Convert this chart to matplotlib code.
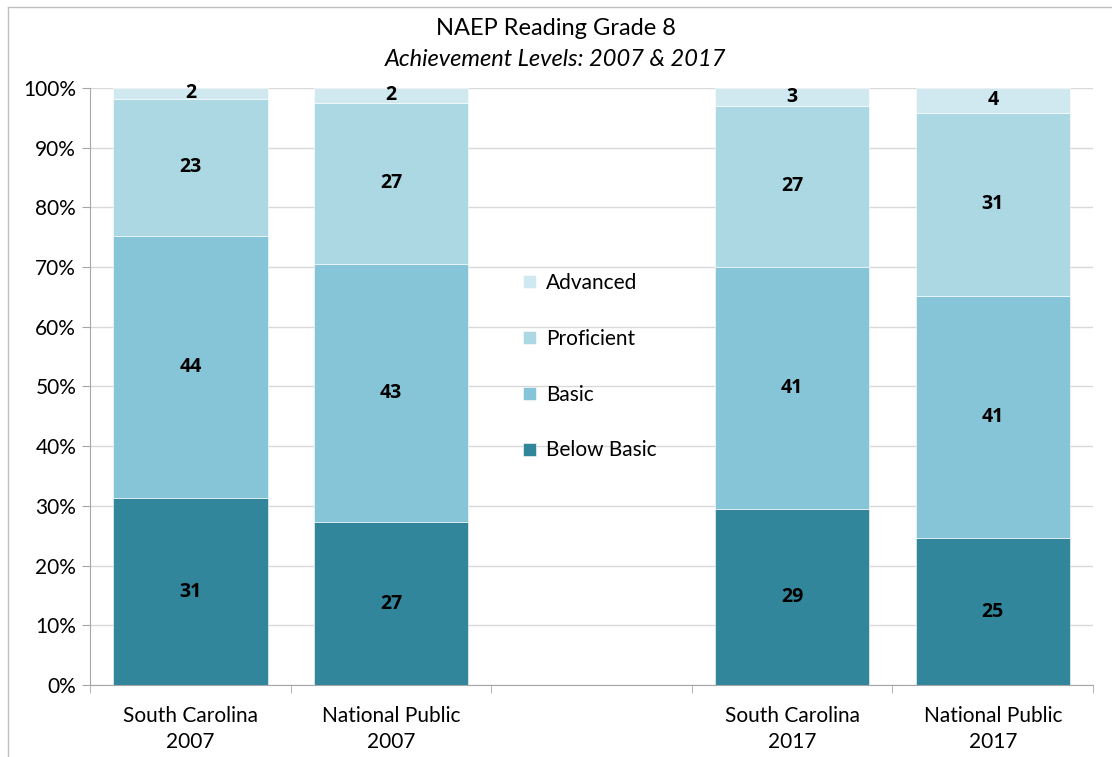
import matplotlib
matplotlib.use("Agg")
import matplotlib.pyplot as plt
import numpy as np

# Category slots (slot 2 is an empty gap between the years)
categories = ["South Carolina\n2007", "National Public\n2007", "",
              "South Carolina\n2017", "National Public\n2017"]
bar_slots = [0, 1, 3, 4]

levels = ["Below Basic", "Basic", "Proficient", "Advanced"]
colors = ["#31869B", "#86C5D8", "#ACD8E4", "#D0E9F0"]

# segment heights (percent)
below_basic = [31.3, 27.3, 29.5, 24.6]
basic = [43.9, 43.2, 40.5, 40.6]
proficient = [23.0, 27.0, 27.0, 30.6]
advanced = [1.8, 2.5, 3.0, 4.2]

# printed labels
below_basic_lbl = [31, 27, 29, 25]
basic_lbl = [44, 43, 41, 41]
proficient_lbl = [23, 27, 27, 31]
advanced_lbl = [2, 2, 3, 4]

plt.rcParams['font.family'] = ['Lato', 'DejaVu Sans']

fig = plt.figure(figsize=(11.12, 7.57), dpi=100)
ax = fig.add_axes([0.081, 0.095, 0.902, 0.789])

series = [below_basic, basic, proficient, advanced]
labels = [below_basic_lbl, basic_lbl, proficient_lbl, advanced_lbl]
bottom = np.zeros(len(bar_slots))
for name, vals, lbls, col in zip(levels, series, labels, colors):
    vals = np.array(vals)
    ax.bar(bar_slots, vals, bottom=bottom, width=0.77, color=col,
           edgecolor="white", linewidth=0.4, label=name, zorder=3)
    for x, b, v, t in zip(bar_slots, bottom, vals, lbls):
        ax.text(x, b + v / 2, str(t), ha="center", va="center",
                fontsize=14, fontweight="bold", family=["Open Sans", "DejaVu Sans"],
                color="black", zorder=4)
    bottom += vals

ax.set_xlim(-0.5, 4.5)
ax.set_ylim(0, 100)
ax.set_yticks(np.arange(0, 101, 10))
ax.set_yticklabels([f"{v}%" for v in range(0, 101, 10)], fontsize=15)
ax.set_xticks(range(len(categories)))
ax.set_xticklabels(categories, fontsize=15, linespacing=1.4)
ax.set_xticks(np.arange(-0.5, 5, 1), minor=True)
ax.tick_params(axis="x", which="major", length=0, pad=15)
ax.tick_params(axis="x", which="minor", length=6, color="#A6A6A6")
ax.tick_params(axis="y", length=6, color="#A6A6A6", pad=4)
ax.grid(axis="y", color="#D9D9D9", linewidth=1, zorder=0)
for s in ["top", "right"]:
    ax.spines[s].set_visible(False)
for s in ["left", "bottom"]:
    ax.spines[s].set_color("#A6A6A6")

handles, names = ax.get_legend_handles_labels()
leg = ax.legend(handles[::-1], names[::-1], loc="center",
                bbox_to_anchor=(0.4985, 0.533), frameon=False,
                fontsize=15, handlelength=0.6, handleheight=0.6,
                labelspacing=1.72, handletextpad=0.5)

fig.text(0.5, 0.963, "NAEP Reading Grade 8", ha="center", va="center", fontsize=17)
fig.text(0.5, 0.921, "Achievement Levels: 2007 & 2017", ha="center", va="center",
         fontsize=17, style="italic")

# outer chart frame
fig.add_artist(plt.Line2D([0.007, 0.007], [0.0, 0.991], color="#BFBFBF", lw=1,
                          transform=fig.transFigure))
fig.add_artist(plt.Line2D([0.007, 1.0], [0.991, 0.991], color="#BFBFBF", lw=1,
                          transform=fig.transFigure))

fig.savefig("out.png", dpi=100)
